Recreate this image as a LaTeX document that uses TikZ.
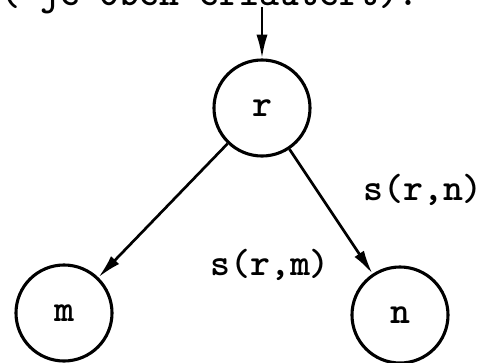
\documentclass[tikz,border=0pt]{standalone}
\usepackage{fontspec}
\usetikzlibrary{arrows.meta}

\begin{document}
\begin{tikzpicture}[
  x=0.025cm, y=-0.025cm,
  every node/.style={font=\fontsize{27}{32}\selectfont\ttfamily\bfseries},
  state/.style={circle, draw=black, line width=2.2pt, minimum size=2.4cm,
                inner sep=0pt},
  edge/.style={-{Latex[length=17pt, width=8pt]}, line width=1.9pt},
  lbl/.style={anchor=base west, inner sep=0pt}
]
  \useasboundingbox (0,0) rectangle (483,363);
  \clip (0,0) rectangle (483,363);

  \node[lbl] (top) at (0,5) {( je oben erläutert).};
  \coordinate (in) at (262,7);

  \node[state] (r) at (262,108) {r};
  \node[state] (m) at (64,313) {m};
  \node[state] (n) at (400,315) {n};

  \draw[edge] (in) -- (r);
  \draw[edge] (r) -- (m);
  \draw[edge] (r) -- (n);

  \node[lbl] (srn) at (363,200) {s(r,n)};
  \node[lbl] (srm) at (210,275) {s(r,m)};
\end{tikzpicture}
\end{document}
